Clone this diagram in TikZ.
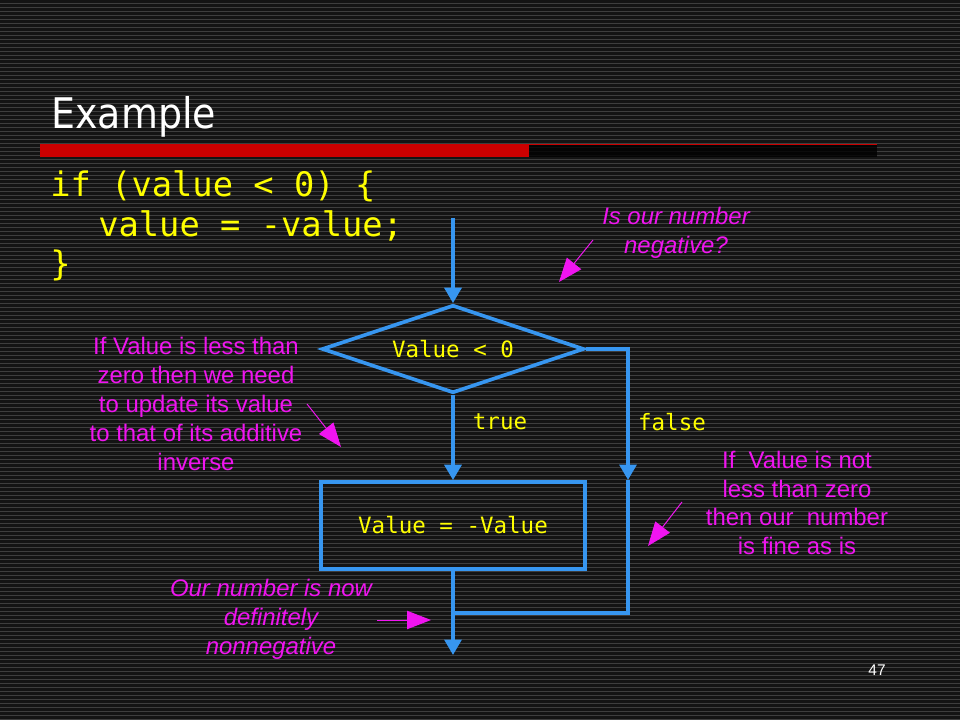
\documentclass[tikz,border=0pt]{standalone}
\usepackage{fontspec}
\setmainfont{Liberation Sans}
\setmonofont{DejaVu Sans Mono}
\newfontfamily\titlefont{DejaVu Sans}[FakeStretch=0.9]
\usetikzlibrary{arrows.meta,shapes.geometric}
\definecolor{slidebg}{RGB}{20,20,20}
\definecolor{stripegray}{RGB}{62,62,62}
\definecolor{barred}{RGB}{204,0,0}
\definecolor{flowblue}{RGB}{55,150,240}
\definecolor{codeyellow}{RGB}{255,255,0}
\definecolor{notepink}{RGB}{240,20,240}

\begin{document}
\begin{tikzpicture}[x=0.025cm, y=-0.025cm,
        flow/.style={draw=flowblue, line width=2.6pt, -{Triangle[length=11pt,width=12pt]}},
        flowline/.style={draw=flowblue, line width=2.6pt},
        decision/.style={diamond, draw=flowblue, line width=2.6pt, inner sep=0pt, aspect=2.98,
            minimum width=6.55cm, minimum height=2.2cm, text=codeyellow,
            font=\ttfamily\fontsize{16}{19}\selectfont},
        process/.style={rectangle, draw=flowblue, line width=2.6pt,
            minimum width=6.6cm, minimum height=2.175cm, text=codeyellow,
            font=\ttfamily\fontsize{16}{19}\selectfont},
        branch/.style={text=codeyellow, font=\ttfamily\fontsize{16}{19}\selectfont},
        code/.style={anchor=base west, inner sep=0pt, text=codeyellow,
            font=\ttfamily\fontsize{24}{28}\selectfont},
        note/.style={text=notepink, align=center, inner sep=0pt,
            font=\fontsize{17}{20.5}\selectfont},
        pointer/.style={draw=notepink, line width=0.7pt,
            -{Triangle[length=17pt,width=13pt]}, notepink}]
        \useasboundingbox (0,0) rectangle (960,720);
        % background stripes
        \fill [slidebg] (0,0) rectangle (960,720);
        \foreach \y in {3,7,...,719}
            \draw [stripegray, line width=0.7pt] (0,\y) -- (960,\y);
        % title and bar
        \node [anchor=base west, inner sep=0pt, text=white, font=\titlefont\fontsize{30}{36}\selectfont] (title) at (51,129) {Example};
        \fill [barred] (40,144) rectangle (529,157);
        \fill [black, opacity=0.8] (529,145) rectangle (877,157);
        \draw [barred, line width=0.7pt] (529,144.5) -- (877,144.5);
        % code
        \node [code] (line1) at (50,197) {if (value < 0) \{};
        \node [code] (line2) at (98,237) {value = -value;};
        \node [code] (line3) at (50,276) {\}};
        % flowchart
        \coordinate (start) at (453,218);
        \node [decision] (cond) at (453,349) {Value < 0};
        \node [process] (act) at (453,525.5) {Value = -Value};
        \coordinate (fcorner) at (628,349);
        \coordinate (fmid) at (628,480);
        \coordinate (fjoin) at (628,613);
        \coordinate (join) at (453,613);
        \coordinate (stop) at (453,655);
        \draw [flow] (start) -- (cond.north);
        \draw [flow] (cond.south) -- (act.north);
        \draw [flow] (cond.east) -- (fcorner) -- (fmid);
        \draw [flowline] (fmid) -- (fjoin) -- (join);
        \draw [flow] (act.south) -- (stop);
        \node [branch] (truelbl) at (500,422) {true};
        \node [branch] (falselbl) at (672,422) {false};
        % notes
        \node [note, font=\itshape\fontsize{17}{20.5}\selectfont] (negq) at (676,233) {Is our number\\negative?};
        \coordinate (negtail) at (593,240);
        \coordinate (negtip) at (559,282);
        \draw [pointer] (negtail) -- (negtip);
        \node [note] (lessnote) at (196,404) {If Value is less than\\zero then we need\\to update its value\\to that of its additive\\inverse};
        \coordinate (lesstail) at (307,404);
        \coordinate (lesstip) at (341,447);
        \draw [pointer] (lesstail) -- (lesstip);
        \node [note] (notnote) at (797,503) {If\ \ Value is not\\less than zero\\then our\ \ number\\is fine as is};
        \coordinate (nottail) at (682,502);
        \coordinate (nottip) at (648,546);
        \draw [pointer] (nottail) -- (nottip);
        \node [note, font=\itshape\fontsize{17}{20.5}\selectfont] (nownote) at (271,619) {Our number is now\\definitely\\nonnegative};
        \coordinate (nowtail) at (377,620);
        \coordinate (nowtip) at (431,620);
        \draw [pointer] (nowtail) -- (nowtip);
        \node [text=white, font=\fontsize{11}{13}\selectfont] (pagenum) at (877,670) {47};
\end{tikzpicture}
\end{document}
